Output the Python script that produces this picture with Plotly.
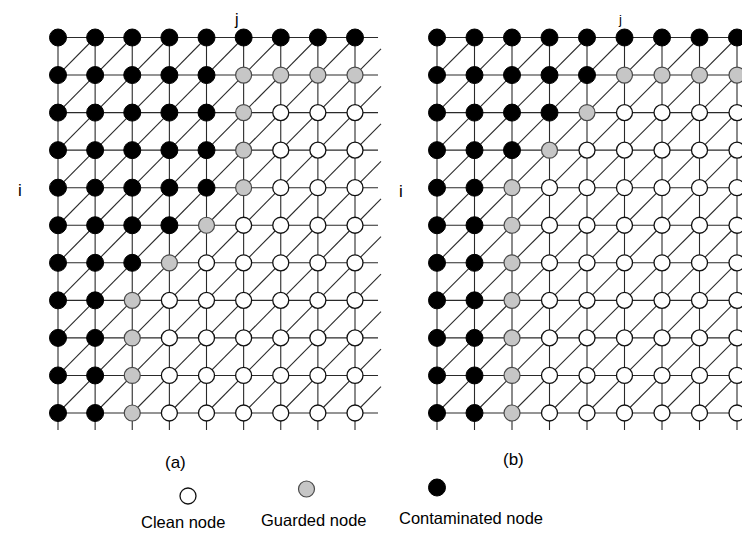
import plotly.graph_objects as go

# Node states per row (top row first): X = contaminated, G = guarded, O = clean
grid_a = [
    "XXXXXXXXX",
    "XXXXXGGGG",
    "XXXXXGOOO",
    "XXXXXGOOO",
    "XXXXXGOOO",
    "XXXXGOOOO",
    "XXXGOOOOO",
    "XXGOOOOOO",
    "XXGOOOOOO",
    "XXGOOOOOO",
    "XXGOOOOOO",
]
grid_b = [
    "XXXXXXXXX",
    "XXXXXGGGG",
    "XXXXGOOOO",
    "XXXGOOOOO",
    "XXGOOOOOO",
    "XXGOOOOOO",
    "XXGOOOOOO",
    "XXGOOOOOO",
    "XXGOOOOOO",
    "XXGOOOOOO",
    "XXGOOOOOO",
]
panel_labels = ["(a)", "(b)"]
legend_labels = ["Clean node", "Guarded node", "Contaminated node"]
legend_states = ["O", "G", "X"]

W, H = 750, 533
OFF = 8  # page body margin in which the figure sits
STYLE = {
    "X": dict(color="#000000", line=dict(color="#000000", width=1), size=17),
    "G": dict(color="#c6c6c6", line=dict(color="#4a4a4a", width=1.2), size=16),
    "O": dict(color="#ffffff", line=dict(color="#111111", width=1.3), size=16),
}
LINE = dict(color="#2a2a2a", width=1.1)
STUB_H, STUB_D, STUB_V = 0.62, 0.7, 0.45

fig = go.Figure()


def add_grid(grid, xaxis):
    nr, nc = len(grid), len(grid[0])
    lx, ly = [], []
    for r in range(nr):
        lx += [0, nc - 1 + STUB_H, None]
        ly += [r, r, None]
    for c in range(nc):
        lx += [c, c, None]
        ly += [0, nr - 1 + STUB_V, None]
    for r in range(nr - 1):
        for c in range(nc - 1):
            lx += [c, c + 1, None]
            ly += [r + 1, r, None]
        lx += [nc - 1, nc - 1 + STUB_D, None]
        ly += [r + 1, r + 1 - STUB_D, None]
    fig.add_trace(go.Scatter(x=lx, y=ly, mode="lines", line=LINE,
                             xaxis=xaxis, yaxis="y", hoverinfo="skip",
                             showlegend=False))
    for s in "XGO":
        xs, ys = [], []
        for r, row in enumerate(grid):
            for c, ch in enumerate(row):
                if ch == s:
                    xs.append(c)
                    ys.append(r)
        fig.add_trace(go.Scatter(x=xs, y=ys, mode="markers", marker=STYLE[s],
                                 xaxis=xaxis, yaxis="y", showlegend=False,
                                 cliponaxis=False))


add_grid(grid_a, "x")
add_grid(grid_b, "x2")


def axis_range(px0, px_last, n, total):
    px0 -= OFF
    px_last -= OFF
    s = (px_last - px0) / (n - 1)
    r0 = -px0 / s
    return [r0, r0 + total / s]


xa = axis_range(58, 355, 9, W)
xb = axis_range(437, 737, 9, W)
yr = axis_range(37.5, 413, 11, H)

ax_common = dict(visible=False, showgrid=False, zeroline=False, fixedrange=True)
fig.update_layout(
    width=W, height=H,
    margin=dict(l=0, r=0, t=0, b=0),
    paper_bgcolor="white", plot_bgcolor="white",
    xaxis=dict(domain=[0, 1], range=xa, **ax_common),
    xaxis2=dict(domain=[0, 1], range=xb, overlaying="x", **ax_common),
    yaxis=dict(domain=[0, 1], range=[yr[1], yr[0]], **ax_common),
    showlegend=False,
    font=dict(family="Liberation Sans, Arial, sans-serif", color="#000000"),
)


def px(x, y):
    return (x - OFF) / W, 1 - (y - OFF) / H


ann = []
for text, (x, y), size in [
    ("j", (236, 19), 16), ("j", (620, 20), 13),
    ("i", (20, 190), 17), ("i", (401, 191), 17),
    (panel_labels[0], (175, 462), 17), (panel_labels[1], (513, 459), 17),
    (legend_labels[0], (183, 522), 16.5), (legend_labels[1], (314, 520), 16.5),
    (legend_labels[2], (471, 518), 16.5),
]:
    xp, yp = px(x, y)
    ann.append(dict(text=text, x=xp, y=yp, xref="paper", yref="paper",
                    showarrow=False, xanchor="center", yanchor="middle",
                    font=dict(size=size, color="#000000")))
fig.update_layout(annotations=ann)

shapes = []
for st, (cx, cy) in zip(legend_states, [(188, 496), (306.5, 489), (437, 487.5)]):
    sty = STYLE[st]
    r = sty["size"] / 2
    x0, y0 = px(cx - r, cy + r)
    x1, y1 = px(cx + r, cy - r)
    shapes.append(dict(type="circle", xref="paper", yref="paper",
                       x0=x0, y0=y0, x1=x1, y1=y1,
                       fillcolor=sty["color"],
                       line=dict(color=sty["line"]["color"], width=sty["line"]["width"])))
fig.update_layout(shapes=shapes)

fig.write_html("out.html")
